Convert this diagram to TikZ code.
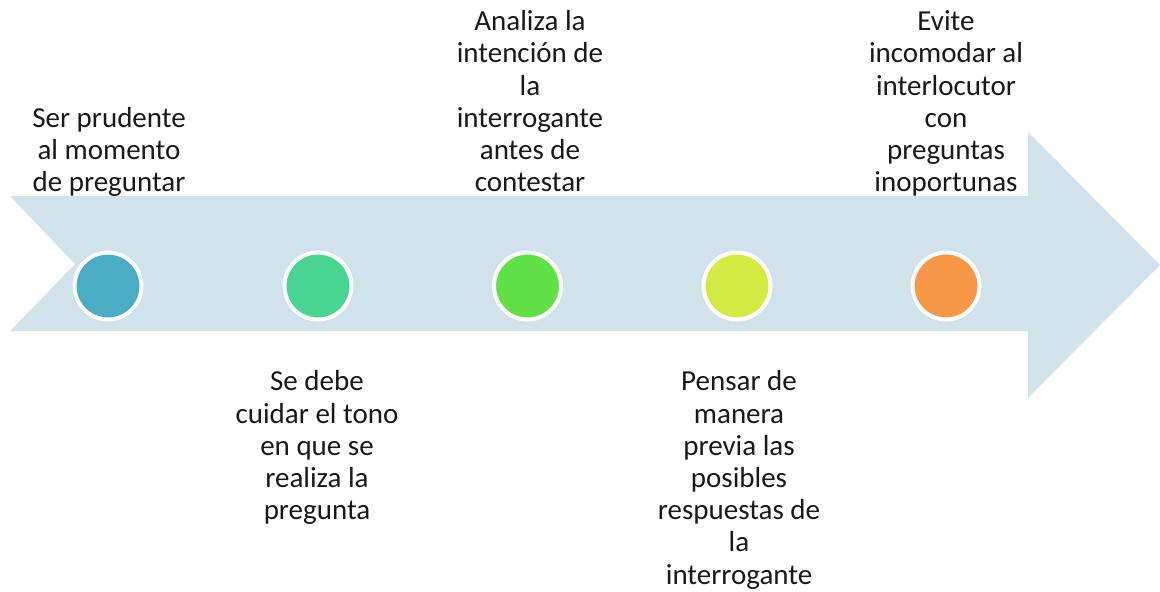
\documentclass[tikz,border=0pt]{standalone}
\usepackage{fontspec}
\setmainfont{Carlito}

\begin{document}
\begin{tikzpicture}[x=0.5pt, y=-0.5pt,
  stepdot/.style={circle, draw=white, line width=2pt, minimum size=33.5pt, inner sep=0pt},
  steptext/.style={font=\fontsize{14.5}{16.1}\selectfont, align=center, inner sep=0pt, text=black!90}]

\definecolor{arrowcolor}{RGB}{208, 226, 234}
\definecolor{stepone}{RGB}{75, 172, 198}
\definecolor{steptwo}{RGB}{74, 212, 146}
\definecolor{stepthree}{RGB}{98, 224, 72}
\definecolor{stepfour}{RGB}{212, 234, 68}
\definecolor{stepfive}{RGB}{247, 152, 72}

\useasboundingbox (0, 0) rectangle (1160, 591);

\fill[arrowcolor] (10, 196) -- (1028, 196) -- (1028, 132) -- (1160, 265) -- (1028, 398) -- (1028, 331) -- (10, 331) -- (75, 264) -- cycle;

\node[stepdot, fill=stepone] (dot1) at (108, 286) {};
\node[stepdot, fill=steptwo] (dot2) at (318, 286) {};
\node[stepdot, fill=stepthree] (dot3) at (527.5, 286) {};
\node[stepdot, fill=stepfour] (dot4) at (737, 286) {};
\node[stepdot, fill=stepfive] (dot5) at (946, 286) {};

\node[steptext, anchor=south] (text1) at (109, 201.75) {Ser prudente\\al momento\\de preguntar\strut};
\node[steptext, anchor=north] (text2) at (317, 368) {\strut Se debe\\cuidar el tono\\en que se\\realiza la\\pregunta};
\node[steptext, anchor=south] (text3) at (530, 201.75) {Analiza la\\intención de\\la\\interrogante\\antes de\\contestar\strut};
\node[steptext, anchor=north] (text4) at (739, 368) {\strut Pensar de\\manera\\previa las\\posibles\\respuestas de\\la\\interrogante};
\node[steptext, anchor=south] (text5) at (946, 201.75) {Evite\\incomodar al\\interlocutor\\con\\preguntas\\inoportunas\strut};

\end{tikzpicture}
\end{document}
